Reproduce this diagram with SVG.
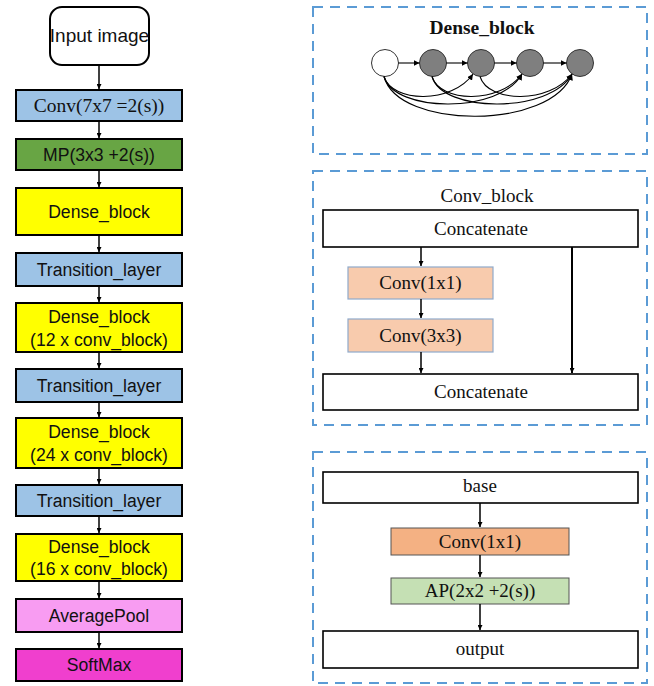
<svg xmlns="http://www.w3.org/2000/svg" width="654" height="686" viewBox="0 0 654 686">
  <style>
    .blk { stroke: #000; stroke-width: 2; }
    .sans { font-family: "Liberation Sans", Arial, sans-serif; font-size: 17.6px; fill: #111; text-anchor: middle; }
    .serif { font-family: "Liberation Serif", "Times New Roman", serif; font-size: 19px; fill: #111; text-anchor: middle; }
    .panel { fill: none; stroke: #5B9BD5; stroke-width: 2; stroke-dasharray: 10 7; }
    .wire { fill: none; stroke: #000; stroke-width: 1.5; }
    .arc { fill: none; stroke: #000; stroke-width: 1.1; }
    .conv { fill: #9DC3E6; }
    .dense { fill: #FFFF00; }
  </style>
  <defs>
    <marker id="arr" viewBox="0 0 10 10" refX="10" refY="5" markerWidth="5" markerHeight="5" orient="auto" markerUnits="userSpaceOnUse">
      <path d="M0,0 L10,5 L0,10 z" fill="#000"/>
    </marker>
    <marker id="arrS" viewBox="0 0 10 10" refX="10" refY="5" markerWidth="6" markerHeight="6" orient="auto" markerUnits="userSpaceOnUse">
      <path d="M0,0 L10,5 L0,10 z" fill="#000"/>
    </marker>
  </defs>

  <!-- Backbone column -->
  <g id="input-image">
    <rect x="50" y="7" width="99" height="58" rx="12" fill="#fff" class="blk"/>
    <text x="99.5" y="42" class="sans" style="font-size:19px">Input image</text>
  </g>
  <g id="conv7">
    <rect x="16" y="90" width="166" height="31" class="blk conv"/>
    <text x="99" y="112" class="serif" style="font-size:19.5px">Conv(7x7 =2(s))</text>
  </g>
  <g id="maxpool">
    <rect x="16" y="139" width="166" height="31" fill="#68A544" class="blk"/>
    <text x="99" y="161" class="sans">MP(3x3 +2(s))</text>
  </g>
  <g id="dense1">
    <rect x="16" y="188" width="166" height="47" class="blk dense"/>
    <text x="99" y="218" class="sans">Dense_block</text>
  </g>
  <g id="trans1">
    <rect x="16" y="253" width="166" height="33" class="blk conv"/>
    <text x="99" y="276" class="sans">Transition_layer</text>
  </g>
  <g id="dense2">
    <rect x="16" y="303" width="166" height="49" class="blk dense"/>
    <text x="99" y="323" class="sans">Dense_block</text>
    <text x="99" y="346" class="sans">(12 x conv_block)</text>
  </g>
  <g id="trans2">
    <rect x="16" y="369" width="166" height="33" class="blk conv"/>
    <text x="99" y="392" class="sans">Transition_layer</text>
  </g>
  <g id="dense3">
    <rect x="16" y="418" width="166" height="50" class="blk dense"/>
    <text x="99" y="438" class="sans">Dense_block</text>
    <text x="99" y="461" class="sans">(24 x conv_block)</text>
  </g>
  <g id="trans3">
    <rect x="16" y="485" width="166" height="31" class="blk conv"/>
    <text x="99" y="507" class="sans">Transition_layer</text>
  </g>
  <g id="dense4">
    <rect x="16" y="534" width="166" height="47" class="blk dense"/>
    <text x="99" y="553" class="sans">Dense_block</text>
    <text x="99" y="575" class="sans">(16 x conv_block)</text>
  </g>
  <g id="avgpool">
    <rect x="16" y="599" width="166" height="33" fill="#F89CF2" class="blk"/>
    <text x="99" y="622" class="sans">AveragePool</text>
  </g>
  <g id="softmax">
    <rect x="16" y="649" width="166" height="32" fill="#F03FCE" class="blk"/>
    <text x="99" y="671" class="sans">SoftMax</text>
  </g>

  <!-- Dense block panel -->
  <g id="dense-panel">
    <rect x="313" y="7" width="334" height="147" class="panel"/>
    <text x="482" y="34" class="serif" style="font-weight:bold;font-size:19.5px">Dense_block</text>
    <circle cx="385" cy="63" r="13.5" fill="#fff" stroke="#333" stroke-width="1"/>
    <circle cx="433" cy="63" r="13.5" fill="#7F7F7F" stroke="#333" stroke-width="1"/>
    <circle cx="481" cy="63" r="13.5" fill="#7F7F7F" stroke="#333" stroke-width="1"/>
    <circle cx="530" cy="63" r="13.5" fill="#7F7F7F" stroke="#333" stroke-width="1"/>
    <circle cx="580" cy="63" r="13.5" fill="#7F7F7F" stroke="#333" stroke-width="1"/>
  </g>

  <!-- Conv block panel -->
  <g id="conv-panel">
    <rect x="313" y="171" width="334" height="254" class="panel"/>
    <text x="487" y="202" class="serif">Conv_block</text>
  </g>
  <g id="concat-top">
    <rect x="323" y="210" width="315" height="37" fill="#fff" stroke="#000" stroke-width="1.6"/>
    <text x="481" y="235" class="serif">Concatenate</text>
  </g>
  <g id="cb-conv1">
    <rect x="348" y="267" width="145" height="32" fill="#F8CBAD" stroke="#8FAACB" stroke-width="1.2"/>
    <text x="420.5" y="289" class="serif">Conv(1x1)</text>
  </g>
  <g id="cb-conv3">
    <rect x="348" y="319" width="145" height="33" fill="#F8CBAD" stroke="#8FAACB" stroke-width="1.2"/>
    <text x="420.5" y="342" class="serif">Conv(3x3)</text>
  </g>
  <g id="concat-bottom">
    <rect x="323" y="374" width="315" height="36" fill="#fff" stroke="#000" stroke-width="1.6"/>
    <text x="481" y="398" class="serif">Concatenate</text>
  </g>

  <!-- Transition layer panel -->
  <g id="transition-panel">
    <rect x="313" y="452" width="334" height="231" class="panel"/>
  </g>
  <g id="base">
    <rect x="323" y="472" width="315" height="31" fill="#fff" stroke="#000" stroke-width="1.6"/>
    <text x="480" y="492" class="serif">base</text>
  </g>
  <g id="tl-conv1">
    <rect x="391" y="528" width="178" height="27" fill="#F4B183" stroke="#555" stroke-width="1"/>
    <text x="480" y="548" class="serif">Conv(1x1)</text>
  </g>
  <g id="tl-ap">
    <rect x="391" y="578" width="178" height="26" fill="#C5E0B4" stroke="#555" stroke-width="1"/>
    <text x="480" y="597" class="serif">AP(2x2 +2(s))</text>
  </g>
  <g id="output">
    <rect x="323" y="631" width="315" height="37" fill="#fff" stroke="#000" stroke-width="1.6"/>
    <text x="480" y="655" class="serif">output</text>
  </g>

  <!-- Connectors -->
  <g id="connectors">
    <!-- backbone -->
    <line x1="99" y1="66" x2="99" y2="89" class="wire" marker-end="url(#arr)"/>
    <line x1="99" y1="122" x2="99" y2="138" class="wire" marker-end="url(#arr)"/>
    <line x1="99" y1="171" x2="99" y2="187" class="wire" marker-end="url(#arr)"/>
    <line x1="99" y1="236" x2="99" y2="252" class="wire" marker-end="url(#arr)"/>
    <line x1="99" y1="287" x2="99" y2="302" class="wire" marker-end="url(#arr)"/>
    <line x1="99" y1="353" x2="99" y2="368" class="wire" marker-end="url(#arr)"/>
    <line x1="99" y1="403" x2="99" y2="417" class="wire" marker-end="url(#arr)"/>
    <line x1="99" y1="469" x2="99" y2="484" class="wire" marker-end="url(#arr)"/>
    <line x1="99" y1="517" x2="99" y2="533" class="wire" marker-end="url(#arr)"/>
    <line x1="99" y1="582" x2="99" y2="598" class="wire" marker-end="url(#arr)"/>
    <line x1="99" y1="633" x2="99" y2="648" class="wire" marker-end="url(#arr)"/>

    <!-- dense block chain -->
    <line x1="398.5" y1="63" x2="419.5" y2="63" class="arc" marker-end="url(#arrS)"/>
    <line x1="446.5" y1="63" x2="467.5" y2="63" class="arc" marker-end="url(#arrS)"/>
    <line x1="494.5" y1="63" x2="516.5" y2="63" class="arc" marker-end="url(#arrS)"/>
    <line x1="543.5" y1="63" x2="566.5" y2="63" class="arc" marker-end="url(#arrS)"/>
    <!-- dense skip links -->
    <path d="M384,76.5 C392,103 452,104 473,74" class="arc" marker-end="url(#arrS)"/>
    <path d="M384,76.5 C394,113 500,114 522,74" class="arc" marker-end="url(#arrS)"/>
    <path d="M384,76.5 C398,130 552,130 572,74" class="arc" marker-end="url(#arrS)"/>
    <path d="M432,76.5 C440,103 500,104 522,74" class="arc" marker-end="url(#arrS)"/>
    <path d="M432,76.5 C442,113 550,114 572,74" class="arc" marker-end="url(#arrS)"/>
    <path d="M480,76.5 C488,103 550,104 572,74" class="arc" marker-end="url(#arrS)"/>

    <!-- conv block -->
    <line x1="421" y1="247" x2="421" y2="266" class="wire" marker-end="url(#arr)"/>
    <line x1="421" y1="299" x2="421" y2="318" class="wire" marker-end="url(#arr)"/>
    <line x1="421" y1="352" x2="421" y2="373" class="wire" marker-end="url(#arr)"/>
    <line x1="572" y1="247" x2="572" y2="373" class="wire" style="stroke-width:2" marker-end="url(#arr)"/>

    <!-- transition layer -->
    <line x1="480" y1="503" x2="480" y2="527" class="wire" marker-end="url(#arr)"/>
    <line x1="480" y1="555" x2="480" y2="577" class="wire" marker-end="url(#arr)"/>
    <line x1="480" y1="604" x2="480" y2="630" class="wire" marker-end="url(#arr)"/>
  </g>
</svg>
